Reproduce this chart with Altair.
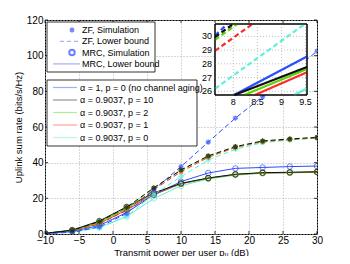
import altair as alt
import pandas as pd

# ---------------- data ----------------
snr_db = [-10, -6, -2, 2, 6, 10, 14, 18, 22, 26, 30]
series_names = ["α = 1, p = 0 (no channel aging)", "α = 0.9037, p = 10",
                "α = 0.9037, p = 2", "α = 0.9037, p = 1", "α = 0.9037, p = 0"]
series_colors = ["#2b4cff", "#111111", "#5ad400", "#ff2b2b", "#5ff0d8"]

zf_no_aging = [0.2, 1.0, 4.0, 11.5, 24.8, 37.8, 51.5, 65.0, 77.0, 90.0, 102.5]
zf_p10 = [0.3, 2.0, 7.0, 15.0, 25.9, 35.9, 43.8, 49.0, 52.2, 53.3, 54.2]
zf_p2 = [0.3, 1.8, 6.3, 14.2, 25.7, 35.7, 43.5, 48.8, 52.0, 53.2, 54.0]
zf_p1 = [0.3, 1.6, 5.6, 13.3, 24.9, 34.9, 43.0, 48.5, 51.8, 53.0, 53.9]
zf_p0 = [0.2, 1.0, 3.5, 10.0, 22.1, 32.2, 41.5, 47.5, 51.2, 52.7, 53.7]

mrc_no_aging = [0.3, 1.4, 4.8, 12.0, 22.0, 29.4, 34.2, 36.8, 37.3, 37.8, 38.1]
mrc_p10 = [0.4, 2.2, 7.3, 15.2, 23.0, 28.4, 31.4, 33.5, 34.4, 34.6, 34.9]
mrc_p2 = [0.35, 2.0, 6.6, 14.4, 22.5, 28.3, 31.3, 33.4, 34.3, 34.5, 34.8]
mrc_p1 = [0.3, 1.8, 6.0, 13.5, 22.0, 28.1, 31.2, 33.3, 34.2, 34.4, 34.7]
mrc_p0 = [0.25, 1.2, 3.6, 9.8, 19.9, 27.05, 30.8, 33.0, 34.0, 34.3, 34.6]

x_ticks = [-10, -5, 0, 5, 10, 15, 20, 25, 30]
y_ticks = [0, 20, 40, 60, 80, 100, 120]
inset_x_ticks = [8, 8.5, 9, 9.5]
inset_y_ticks = [26, 27, 28, 29, 30]
inset_x_domain = [7.62, 9.53]
inset_y_domain = [25.73, 30.9]
legend1_labels = ["ZF, Simulation", "ZF, Lower bound", "MRC, Simulation", "MRC, Lower bound"]

zf_all = [zf_no_aging, zf_p10, zf_p2, zf_p1, zf_p0]
mrc_all = [mrc_no_aging, mrc_p10, mrc_p2, mrc_p1, mrc_p0]
draw_order = [4, 3, 2, 0, 1]

rows = []
for i in draw_order:
    for scheme, vals in (("ZF", zf_all[i]), ("MRC", mrc_all[i])):
        for x, y in zip(snr_db, vals):
            rows.append({"snr": x, "rate": y, "series": series_names[i], "scheme": scheme})
df = pd.DataFrame(rows)
zf_df = df[df.scheme == "ZF"]
mrc_df = df[df.scheme == "MRC"]

FONT = "Liberation Sans"
ASTER = "M-1,0L1,0M0,-1L0,1M-0.7,-0.7L0.7,0.7M-0.7,0.7L0.7,-0.7"
color = alt.Color("series:N", scale=alt.Scale(domain=series_names, range=series_colors), legend=None)
GRID = "#b0b0b0"
W, H = 272, 214

# plot-area pixel geometry of the inset box
IX0, IX1, IY0, IY1 = 170, 262, 4, 75

# ---------------- main plot ----------------
axis_common = dict(grid=True, gridDash=[1, 2], gridColor=GRID, domain=False, ticks=False,
                   labelFlush=False, labelOverlap=False, labelFontSize=10, labelColor="#000",
                   titleFontSize=9.5, titleFontWeight="normal", titleColor="#000")
mx = alt.X("snr:Q", scale=alt.Scale(domain=[-10, 30], nice=False),
           axis=alt.Axis(values=x_ticks, title="Transmit power per user pᵤ (dB)",
                         labelPadding=1, titlePadding=2, **axis_common))
my = alt.Y("rate:Q", scale=alt.Scale(domain=[0, 120], nice=False),
           axis=alt.Axis(values=y_ticks, title="Uplink sum rate (bits/s/Hz)",
                         labelPadding=2, titlePadding=3, **axis_common))

zf_lines = alt.Chart(zf_df).mark_line(strokeDash=[5, 3], strokeWidth=1, clip=True).encode(
    x=mx, y=my, color=color)
zf_pts = alt.Chart(zf_df).mark_point(shape=ASTER, size=28, strokeWidth=1.2, filled=False, clip=True).encode(
    x=mx, y=my, color=color)
mrc_lines = alt.Chart(mrc_df).mark_line(strokeWidth=1, clip=True).encode(
    x=mx, y=my, color=color)
mrc_pts = alt.Chart(mrc_df).mark_point(shape="circle", size=30, strokeWidth=1, filled=False, clip=True).encode(
    x=mx, y=my, color=color)

# inward tick marks on all four sides (MATLAB box style)
xt = pd.DataFrame({"snr": x_ticks})
yt = pd.DataFrame({"rate": y_ticks})
tick_layers = [
    alt.Chart(xt).mark_rule(color="black", strokeWidth=0.8).encode(x=mx, y=alt.value(H - 3), y2=alt.value(H)),
    alt.Chart(xt).mark_rule(color="black", strokeWidth=0.8).encode(x=mx, y=alt.value(0), y2=alt.value(3)),
    alt.Chart(yt).mark_rule(color="black", strokeWidth=0.8).encode(y=my, x=alt.value(0), x2=alt.value(3)),
    alt.Chart(yt).mark_rule(color="black", strokeWidth=0.8).encode(y=my, x=alt.value(W - 3), x2=alt.value(W)),
]

one = pd.DataFrame({"k": [0]})
main_layers = [mrc_lines, zf_lines, mrc_pts, zf_pts] + tick_layers

# legend 1
main_layers.append(alt.Chart(one).mark_rect(fill="white", stroke="black", strokeWidth=0.8).encode(
    x=alt.value(2), x2=alt.value(110), y=alt.value(2), y2=alt.value(52)))
blue = series_colors[0]
for i, lab in enumerate(legend1_labels):
    yy = 10 + i * 11.3
    if i == 0:
        main_layers.append(alt.Chart(one).mark_point(shape=ASTER, size=28, strokeWidth=1.2, color=blue, opacity=0.7).encode(
            x=alt.value(27), y=alt.value(yy)))
    elif i == 1:
        main_layers.append(alt.Chart(one).mark_rule(strokeDash=[4, 3], color=blue, opacity=0.5).encode(
            x=alt.value(15), x2=alt.value(35), y=alt.value(yy)))
    elif i == 2:
        main_layers.append(alt.Chart(one).mark_point(shape="circle", size=30, filled=False, color=blue, opacity=0.7).encode(
            x=alt.value(27), y=alt.value(yy)))
    else:
        main_layers.append(alt.Chart(one).mark_rule(color=blue, opacity=0.45, strokeWidth=1.2).encode(
            x=alt.value(8), x2=alt.value(35), y=alt.value(yy)))
    main_layers.append(alt.Chart(pd.DataFrame({"t": [lab]})).mark_text(
        align="left", baseline="middle", fontSize=9, font=FONT, color="#000").encode(
        x=alt.value(37), y=alt.value(yy), text="t:N"))

# legend 2
main_layers.append(alt.Chart(one).mark_rect(fill="white", stroke="black", strokeWidth=0.8).encode(
    x=alt.value(2), x2=alt.value(152), y=alt.value(60), y2=alt.value(126)))
for i, lab in enumerate(series_names):
    yy = 67.5 + i * 12.5
    main_layers.append(alt.Chart(one).mark_rule(color=series_colors[i], opacity=0.45, strokeWidth=1.2).encode(
        x=alt.value(8), x2=alt.value(32), y=alt.value(yy)))
    main_layers.append(alt.Chart(pd.DataFrame({"t": [lab]})).mark_text(
        align="left", baseline="middle", fontSize=9, font=FONT, color="#000").encode(
        x=alt.value(35), y=alt.value(yy), text="t:N"))

main = alt.layer(*main_layers)

# ---------------- inset (zoom) ----------------
xs = alt.Scale(domain=inset_x_domain, range=[IX0, IX1], nice=False, zero=False)
ys = alt.Scale(domain=inset_y_domain, range=[IY1, IY0], nice=False, zero=False)
XMIN, XMAX = inset_x_domain
YMIN, YMAX = inset_y_domain


def clipped_segments(data):
    """Segments between consecutive points, clipped to the inset's domain (Liang-Barsky)."""
    return alt.Chart(data).transform_window(
        snr_next="lead(snr)", rate_next="lead(rate)",
        groupby=["series", "scheme"], sort=[alt.SortField("snr")]
    ).transform_filter("datum.snr_next != null").transform_calculate(
        dx="datum.snr_next - datum.snr", dy="datum.rate_next - datum.rate"
    ).transform_calculate(
        txa=f"datum.dx == 0 ? ((datum.snr >= {XMIN} && datum.snr <= {XMAX}) ? -1e9 : 2) : ({XMIN} - datum.snr) / datum.dx",
        txb=f"datum.dx == 0 ? ((datum.snr >= {XMIN} && datum.snr <= {XMAX}) ? 1e9 : -1) : ({XMAX} - datum.snr) / datum.dx",
        tya=f"datum.dy == 0 ? ((datum.rate >= {YMIN} && datum.rate <= {YMAX}) ? -1e9 : 2) : ({YMIN} - datum.rate) / datum.dy",
        tyb=f"datum.dy == 0 ? ((datum.rate >= {YMIN} && datum.rate <= {YMAX}) ? 1e9 : -1) : ({YMAX} - datum.rate) / datum.dy",
    ).transform_calculate(
        tlo="max(0, min(datum.txa, datum.txb), min(datum.tya, datum.tyb))",
        thi="min(1, max(datum.txa, datum.txb), max(datum.tya, datum.tyb))",
    ).transform_filter("datum.tlo < datum.thi").transform_calculate(
        cx0="datum.snr + datum.tlo * datum.dx", cy0="datum.rate + datum.tlo * datum.dy",
        cx1="datum.snr + datum.thi * datum.dx", cy1="datum.rate + datum.thi * datum.dy",
    )


inset_box = alt.Chart(one).mark_rect(fill="white", stroke="black", strokeWidth=1).encode(
    x=alt.value(IX0), x2=alt.value(IX1), y=alt.value(IY0), y2=alt.value(IY1))
gx = alt.Chart(pd.DataFrame({"v": inset_x_ticks})).mark_rule(
    color=GRID, strokeDash=[1, 2], strokeWidth=0.8).encode(
    x=alt.X("v:Q", scale=xs, axis=None), y=alt.value(IY0), y2=alt.value(IY1))
gy = alt.Chart(pd.DataFrame({"v": inset_y_ticks})).mark_rule(
    color=GRID, strokeDash=[1, 2], strokeWidth=0.8).encode(
    y=alt.Y("v:Q", scale=ys, axis=None), x=alt.value(IX0), x2=alt.value(IX1))
i_zf = clipped_segments(zf_df).mark_rule(strokeDash=[5, 3], strokeWidth=2.2).encode(
    x=alt.X("cx0:Q", scale=xs, axis=None), x2="cx1:Q",
    y=alt.Y("cy0:Q", scale=ys, axis=None), y2="cy1:Q", color=color)
i_mrc = clipped_segments(mrc_df).mark_rule(strokeWidth=2.2).encode(
    x=alt.X("cx0:Q", scale=xs, axis=None), x2="cx1:Q",
    y=alt.Y("cy0:Q", scale=ys, axis=None), y2="cy1:Q", color=color)
lx = alt.Chart(pd.DataFrame({"v": inset_x_ticks})).mark_text(
    fontSize=9, font=FONT, color="#000", baseline="top").encode(
    x=alt.X("v:Q", scale=xs, axis=None), y=alt.value(IY1 + 3), text=alt.Text("v:Q", format="~g"))
ly = alt.Chart(pd.DataFrame({"v": inset_y_ticks})).mark_text(
    fontSize=9, font=FONT, color="#000", align="right", baseline="middle").encode(
    y=alt.Y("v:Q", scale=ys, axis=None), x=alt.value(IX0 - 3), text=alt.Text("v:Q", format="~g"))
frame = alt.Chart(one).mark_rect(fill="transparent", stroke="black", strokeWidth=1).encode(
    x=alt.value(IX0), x2=alt.value(IX1), y=alt.value(IY0), y2=alt.value(IY1))

inset = alt.layer(inset_box, gx, gy, i_zf, i_mrc, lx, ly, frame)

chart = alt.layer(main, inset).resolve_scale(x="independent", y="independent").properties(
    width=W, height=H,
    autosize=alt.AutoSizeParams(type="none"),
    padding={"left": 37, "top": 12, "right": 25, "bottom": 22},
).configure(font=FONT).configure_view(stroke="black", strokeWidth=1, fill="white")

chart.save("out.html", embed_options={"renderer": "svg", "actions": False})
